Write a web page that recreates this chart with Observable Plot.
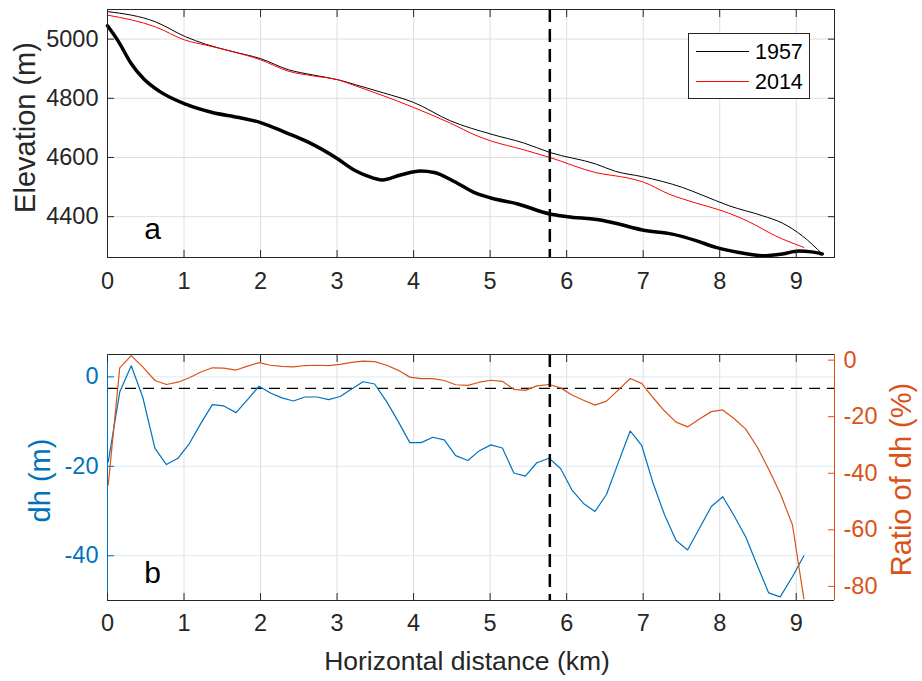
<!DOCTYPE html>
<html>
<head>
<meta charset="utf-8">
<script src="https://cdn.jsdelivr.net/npm/d3@7"></script>
<script src="https://cdn.jsdelivr.net/npm/@observablehq/plot@0.6"></script>
<style>
  html, body { margin: 0; padding: 0; background: #fff; }
  #chart { position: relative; width: 922px; height: 681px; font-family: "Liberation Sans", Arial, Helvetica, sans-serif; }
  #chart svg { display: block; }
  #legend { position: absolute; left: 688px; top: 33px; width: 122px; height: 66px; border: 1px solid #262626; background: #fff; box-sizing: border-box; }
  .lg-row { position: absolute; left: 0; height: 24px; width: 100%; }
  .lg-line { position: absolute; left: 7px; top: 11px; width: 53px; height: 0; border-top: 1px solid; }
  .lg-text { position: absolute; left: 66px; top: 0; font-size: 21.5px; line-height: 24px; color: #000; }
</style>
</head>
<body>
<div id="chart"></div>
<script>
// ---------- data ----------
const xTicks = [0, 1, 2, 3, 4, 5, 6, 7, 8, 9];
const elevTicks = [4400, 4600, 4800, 5000];
const dhTicks = [-40, -20, 0];
const ratioTicks = [-80, -60, -40, -20, 0];
const seriesNames = ["1957", "2014"];

// surface profile 1957 (km, m)
const x1957 = [0, 0.63, 1.02, 1.28, 1.63, 2.0, 2.37, 2.68, 3.02, 3.24, 3.61, 4.0, 4.48, 5.01, 5.44, 5.78, 6.38, 6.64, 6.99, 7.51, 7.77, 8.12, 8.56, 8.82, 9.08, 9.34];
const z1957 = [5093, 5058, 5008, 4983, 4958, 4934, 4896, 4879, 4862, 4846, 4818, 4786, 4724, 4679, 4649, 4617, 4578, 4553, 4535, 4499, 4473, 4437, 4403, 4378, 4335, 4274];

// surface profile 2014 (km, m)
const x2014 = [0, 0.63, 1.02, 1.28, 1.63, 2.0, 2.37, 2.68, 3.02, 3.24, 3.61, 4.0, 4.48, 4.83, 5.01, 5.44, 5.78, 6.38, 6.81, 6.99, 7.34, 7.69, 8.03, 8.38, 8.73, 9.1];
const z2014 = [5081, 5041, 4996, 4980, 4958, 4930, 4891, 4876, 4862, 4842, 4808, 4769, 4716, 4673, 4656, 4626, 4600, 4549, 4530, 4518, 4476, 4446, 4420, 4383, 4335, 4296];

// bed profile (km, m)
const xBed = [0, 0.15, 0.3, 0.475, 0.67, 1.02, 1.37, 1.72, 2.0, 2.33, 2.63, 2.98, 3.24, 3.39, 3.59, 3.83, 4.09, 4.27, 4.53, 4.79, 5.01, 5.36, 5.78, 6.01, 6.44, 6.68, 6.99, 7.38, 7.69, 7.95, 8.25, 8.56, 8.82, 9.03, 9.2, 9.34];
const zBed = [5045, 4989, 4921, 4865, 4825, 4780, 4752, 4735, 4718, 4684, 4651, 4600, 4555, 4538, 4524, 4541, 4554, 4549, 4519, 4482, 4463, 4443, 4409, 4400, 4389, 4375, 4355, 4341, 4319, 4296, 4279, 4268, 4274, 4284, 4281, 4274];

// elevation change profile (km)
const xDh = [0.01, 0.16, 0.31, 0.46, 0.62, 0.77, 0.92, 1.07, 1.22, 1.37, 1.52, 1.68, 1.83, 1.98, 2.13, 2.28, 2.43, 2.58, 2.74, 2.89, 3.04, 3.19, 3.34, 3.49, 3.65, 3.80, 3.95, 4.10, 4.25, 4.40, 4.55, 4.71, 4.86, 5.01, 5.16, 5.31, 5.46, 5.61, 5.77, 5.92, 6.07, 6.22, 6.37, 6.52, 6.67, 6.83, 6.98, 7.13, 7.28, 7.43, 7.58, 7.73, 7.89, 8.04, 8.19, 8.34, 8.49, 8.64, 8.79, 8.95, 9.10];
// dh (m)
const dh = [-19, -3.4, 2.5, -4.5, -16.0, -19.6, -18.2, -14.9, -10.4, -6.2, -6.5, -8.0, -5.1, -2.1, -3.6, -4.7, -5.4, -4.5, -4.5, -5.1, -4.4, -2.7, -1.1, -1.6, -5.6, -10.0, -14.7, -14.7, -13.5, -14.1, -17.6, -18.7, -16.5, -15.2, -15.9, -21.5, -22.2, -19.2, -18.2, -20.5, -25.3, -28.3, -30.1, -26.3, -19.4, -12.1, -15.3, -23.8, -30.9, -36.6, -38.7, -34.0, -29.0, -26.8, -31.1, -35.8, -42.1, -48.3, -49.2, -44.7, -40.0];
// ratio of dh (%)
const ratio = [-44, -2.7, 1.6, -2.4, -7.2, -8.6, -7.8, -6.2, -4.2, -2.7, -2.8, -3.5, -2.1, -0.9, -1.8, -2.2, -2.4, -1.9, -1.8, -1.9, -1.5, -0.8, -0.35, -0.5, -1.8, -3.6, -6.0, -6.5, -6.5, -7.2, -8.7, -8.9, -7.8, -7.1, -7.5, -10.3, -10.7, -9.1, -8.6, -9.8, -12.3, -14.2, -15.9, -14.5, -10.7, -6.5, -8.2, -13.3, -18.0, -21.9, -23.6, -20.9, -18.2, -17.6, -20.7, -24.4, -30.7, -38.6, -47.1, -58.2, -84.4];

const dividerKm = 5.78;     // vertical dashed marker
const ratioThreshold = -10; // horizontal dashed reference (%)

// ---------- scales / style ----------
const xDomain = [0, 9.5];
const elevDomain = [4262, 5100];
const dhDomain = [-50, 5];
const ratioDomain = [-85, 2];

const ink = "#262626";
const blue = "#0072BD";
const orange = "#D95319";
const gridGray = "#dfdfdf";
const gridBlue = "#d9eaf5";
const font = "Liberation Sans, Arial, Helvetica, sans-serif";
const tickFont = 23.5;
const titleFont = 26.5;
const yTitleFont = 29;

const toLeft = r => dhDomain[0] + (r - ratioDomain[0]) * (dhDomain[1] - dhDomain[0]) / (ratioDomain[1] - ratioDomain[0]);
const toRatio = v => ratioDomain[0] + (v - dhDomain[0]) * (ratioDomain[1] - ratioDomain[0]) / (dhDomain[1] - dhDomain[0]);

const rows = (xs, zs) => xs.map((x, i) => ({x, z: zs[i]}));
const s1957 = rows(x1957, z1957);
const s2014 = rows(x2014, z2014);
const sBed = rows(xBed, zBed);
const dhRows = xDh.map((x, i) => ({x, dh: dh[i], ratio: ratio[i]}));

const fmt = d => String(d);
const blank = () => "";
const centered = {textAnchor: "middle", lineAnchor: "middle"};

// ---------- panel a ----------
const topPlot = Plot.plot({
  width: 922, height: 300,
  marginTop: 9, marginBottom: 43, marginLeft: 107, marginRight: 88,
  style: {fontFamily: font, fontSize: tickFont + "px", color: ink, background: "#fff", overflow: "visible"},
  x: {domain: xDomain, label: null},
  y: {domain: elevDomain, label: null},
  marks: [
    Plot.gridX(xTicks, {stroke: gridGray, strokeOpacity: 1}),
    Plot.gridY(elevTicks, {stroke: gridGray, strokeOpacity: 1}),
    Plot.line(s1957, {x: "x", y: "z", stroke: "#000", strokeWidth: 1, curve: "monotone-x"}),
    Plot.line(s2014, {x: "x", y: "z", stroke: "#ff0000", strokeWidth: 1, curve: "monotone-x"}),
    Plot.line(sBed, {x: "x", y: "z", stroke: "#000", strokeWidth: 3.5, curve: "monotone-x"}),
    Plot.ruleX([dividerKm], {stroke: "#000", strokeWidth: 2.5, strokeDasharray: "13,7"}),
    Plot.frame({stroke: ink, strokeWidth: 1}),
    Plot.axisX(xTicks, {anchor: "bottom", tickSize: 0, tickPadding: 15, tickFormat: fmt, fill: ink, fontSize: tickFont, label: null}),
    Plot.axisX(xTicks, {anchor: "bottom", tickSize: -7, tickFormat: blank, stroke: ink, label: null}),
    Plot.axisX(xTicks, {anchor: "top", tickSize: -7, tickFormat: blank, stroke: ink, label: null}),
    Plot.axisY(elevTicks, {anchor: "left", tickSize: 0, tickPadding: 9, tickFormat: fmt, fill: ink, fontSize: tickFont, label: null}),
    Plot.axisY(elevTicks, {anchor: "left", tickSize: -7, tickFormat: blank, stroke: ink, label: null}),
    Plot.axisY(elevTicks, {anchor: "right", tickSize: -7, tickFormat: blank, stroke: ink, label: null}),
    Plot.text(["Elevation (m)"], {frameAnchor: "left", dx: -82, dy: -6, rotate: -90, fontSize: yTitleFont, fill: ink, ...centered}),
    Plot.text(["a"], {frameAnchor: "bottom-left", dx: 45, dy: -28, fontSize: 30, fill: "#000", ...centered})
  ]
});

// ---------- panel b ----------
const botPlot = Plot.plot({
  width: 922, height: 381,
  marginTop: 54, marginBottom: 81, marginLeft: 107, marginRight: 88,
  style: {fontFamily: font, fontSize: tickFont + "px", color: ink, background: "#fff", overflow: "visible"},
  x: {domain: xDomain, label: null},
  y: {domain: dhDomain, label: null},
  marks: [
    Plot.gridX(xTicks, {stroke: gridGray, strokeOpacity: 1}),
    Plot.gridY(dhTicks, {stroke: gridBlue, strokeOpacity: 1}),
    Plot.ruleY([toLeft(ratioThreshold)], {stroke: "#000", strokeWidth: 1.3, strokeDasharray: "11,7"}),
    Plot.line(dhRows, {x: "x", y: "dh", stroke: blue, strokeWidth: 1.2}),
    Plot.line(dhRows, {x: "x", y: d => toLeft(d.ratio), stroke: orange, strokeWidth: 1.2}),
    Plot.ruleX([dividerKm], {stroke: "#000", strokeWidth: 2.5, strokeDasharray: "13,7"}),
    Plot.ruleY([dhDomain[1]], {stroke: ink, strokeWidth: 1}),
    Plot.ruleY([dhDomain[0]], {stroke: ink, strokeWidth: 1}),
    Plot.ruleX([xDomain[0]], {stroke: blue, strokeWidth: 1}),
    Plot.ruleX([xDomain[1]], {stroke: orange, strokeWidth: 1}),
    Plot.axisX(xTicks, {anchor: "bottom", tickSize: 0, tickPadding: 14, tickFormat: fmt, fill: ink, fontSize: tickFont, label: null}),
    Plot.axisX(xTicks, {anchor: "bottom", tickSize: -7, tickFormat: blank, stroke: ink, label: null}),
    Plot.axisX(xTicks, {anchor: "top", tickSize: -7, tickFormat: blank, stroke: ink, label: null}),
    Plot.axisY(dhTicks, {anchor: "left", tickSize: 0, tickPadding: 9, tickFormat: fmt, fill: blue, fontSize: tickFont, label: null}),
    Plot.axisY(dhTicks, {anchor: "left", tickSize: -7, tickFormat: blank, stroke: blue, label: null}),
    Plot.axisY(ratioTicks.map(toLeft), {anchor: "right", tickSize: 0, tickPadding: 9, tickFormat: d => String(Math.round(toRatio(d))), fill: orange, fontSize: tickFont, label: null}),
    Plot.axisY(ratioTicks.map(toLeft), {anchor: "right", tickSize: -7, tickFormat: blank, stroke: orange, label: null}),
    Plot.text(["dh (m)"], {frameAnchor: "left", dx: -67, dy: 3, rotate: -90, fontSize: yTitleFont, fill: blue, ...centered}),
    Plot.text(["Ratio of dh (%)"], {frameAnchor: "right", dx: 67, dy: 2, rotate: -90, fontSize: yTitleFont, fill: orange, ...centered}),
    Plot.text(["Horizontal distance (km)"], {frameAnchor: "bottom", dx: -4, dy: 61, fontSize: titleFont, fill: ink, ...centered}),
    Plot.text(["b"], {frameAnchor: "bottom-left", dx: 45, dy: -27, fontSize: 30, fill: "#000", ...centered})
  ]
});

const chart = document.getElementById("chart");
chart.appendChild(topPlot);
chart.appendChild(botPlot);

// legend for panel a
const legend = document.createElement("div");
legend.id = "legend";
const legendColors = ["#000", "#ff0000"];
seriesNames.forEach((name, i) => {
  const row = document.createElement("div");
  row.className = "lg-row";
  row.style.top = (6 + i * 30) + "px";
  const ln = document.createElement("div");
  ln.className = "lg-line";
  ln.style.borderTopColor = legendColors[i];
  const tx = document.createElement("div");
  tx.className = "lg-text";
  tx.textContent = name;
  row.appendChild(ln);
  row.appendChild(tx);
  legend.appendChild(row);
});
chart.appendChild(legend);
</script>
</body>
</html>
